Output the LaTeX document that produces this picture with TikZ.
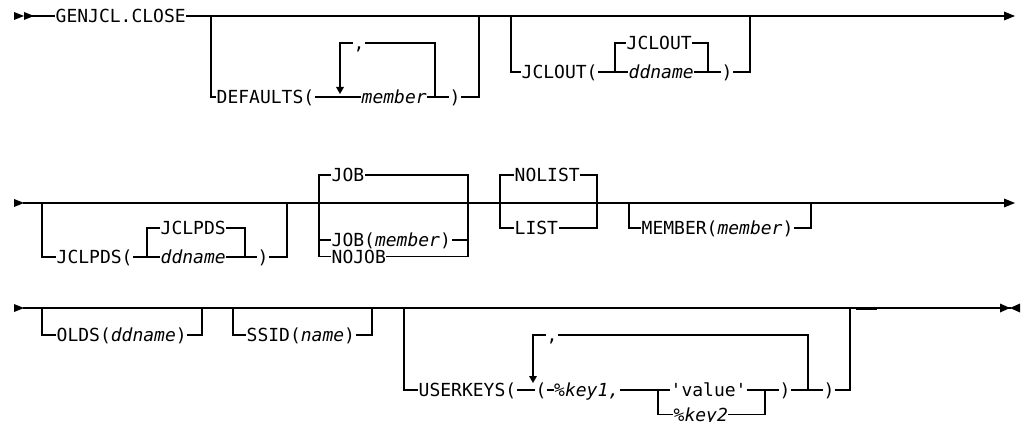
\documentclass[tikz,border=0pt]{standalone}
\usepackage{fontspec}
\setmonofont{DejaVu Sans Mono}
\newcommand\rrfont{\ttfamily\fontsize{18}{21}\selectfont}
\tikzset{
  track/.style={line width=1.2pt, line cap=rect, line join=miter},
  lbl/.style={anchor=west, inner xsep=1pt, inner ysep=0pt, text height=13.1pt, text depth=0pt, font=\rrfont},
  tipfill/.style={fill=black}
}
\begin{document}
\begin{tikzpicture}[x=1pt,y=-1pt]
\useasboundingbox (0,0) rectangle (1023,422);
\fill[white] (0,0) rectangle (1023,422);

% ---------------- Row 1 ----------------
\fill[tipfill] (14,12) -- (24,16) -- (14,20) -- cycle;
\fill[tipfill] (24,12) -- (34,16) -- (24,20) -- cycle;
\node[lbl] (gen) at (54.5,16) {GENJCL.CLOSE};
\coordinate (s1) at (33,16);
\coordinate (e1) at (1004,16);
\draw[track] (s1) -- (gen.west);
\draw[track] (gen.east) -- (e1);
\fill[tipfill] (1004,11.5) -- (1015,16) -- (1004,20.5) -- cycle;

% DEFAULTS
\node[lbl] (def) at (215.5,97) {DEFAULTS(};
\node[lbl] (mem) at (360.5,97) {\itshape member};
\node[lbl] (rp1) at (448.5,97) {)};
\node[lbl] (com1) at (352.5,43) {,};
\draw[track] (211,16) -- (211,97) -- (def.west);
\draw[track] (def.east) -- (mem.west);
\draw[track] (mem.east) -- (rp1.west);
\draw[track] (rp1.east) -- (479,97) -- (479,16);
\draw[track] (435,97) -- (435,43) -- (com1.east);
\draw[track] (com1.west) -- (340,43) -- (340,87);
\fill[tipfill] (336,87) -- (344,87) -- (340,94) -- cycle;

% JCLOUT
\node[lbl] (jo) at (520.5,72) {JCLOUT(};
\node[lbl] (ddn1) at (627.5,72) {\itshape ddname};
\node[lbl] (jod) at (625.5,43) {JCLOUT};
\node[lbl] (rp2) at (720.5,72) {)};
\draw[track] (511,16) -- (511,72) -- (jo.west);
\draw[track] (jo.east) -- (ddn1.west);
\draw[track] (615,72) -- (615,43) -- (jod.west);
\draw[track] (jod.east) -- (708,43) -- (708,72);
\draw[track] (ddn1.east) -- (rp2.west);
\draw[track] (rp2.east) -- (750,72) -- (750,16);

% ---------------- Row 2 ----------------
\fill[tipfill] (14,199) -- (24,203) -- (14,207) -- cycle;
\coordinate (s2) at (24,203);
\coordinate (e2) at (1004,203);
\draw[track] (s2) -- (e2);
\fill[tipfill] (1004,198.5) -- (1015,203) -- (1004,207.5) -- cycle;

% JCLPDS
\node[lbl] (jp) at (55.5,257) {JCLPDS(};
\node[lbl] (ddn2) at (159.5,257) {\itshape ddname};
\node[lbl] (jpd) at (159.5,228) {JCLPDS};
\node[lbl] (rp3) at (256.5,257) {)};
\draw[track] (42,203) -- (42,257) -- (jp.west);
\draw[track] (jp.east) -- (ddn2.west);
\draw[track] (147,257) -- (147,228) -- (jpd.west);
\draw[track] (jpd.east) -- (245,228) -- (245,257);
\draw[track] (ddn2.east) -- (rp3.west);
\draw[track] (rp3.east) -- (287,257) -- (287,203);

% JOB
\node[lbl] (job) at (330.5,175) {JOB};
\node[lbl] (jobm) at (330.5,240) {JOB(\textit{member})};
\node[lbl] (nojob) at (330.5,256.5) {NOJOB};
\draw[track] (319,256.5) -- (319,175) -- (job.west);
\draw[track] (job.east) -- (468,175) -- (468,256.5);
\draw[track] (319,240) -- (jobm.west);
\draw[track] (jobm.east) -- (468,240);
\draw[track] (319,256.5) -- (nojob.west);
\draw[track] (nojob.east) -- (468,256.5);

% NOLIST
\node[lbl] (nolist) at (513.5,175) {NOLIST};
\node[lbl] (list) at (513.5,228) {LIST};
\draw[track] (500,228) -- (500,175) -- (nolist.west);
\draw[track] (nolist.east) -- (597,175) -- (597,228);
\draw[track] (500,228) -- (list.west);
\draw[track] (list.east) -- (597,228);

% MEMBER
\node[lbl] (memb) at (640.5,228) {MEMBER(\textit{member})};
\draw[track] (629,203) -- (629,228) -- (memb.west);
\draw[track] (memb.east) -- (811,228) -- (811,203);

% ---------------- Row 3 ----------------
\fill[tipfill] (14,304) -- (24,308) -- (14,312) -- cycle;
\coordinate (s3) at (24,308);
\coordinate (e3) at (1010,308);
\draw[track] (s3) -- (e3);
\draw[line width=3pt] (856,308) -- (877,308);
\fill[tipfill] (1000,303.5) -- (1010,308) -- (1000,312.5) -- cycle;
\fill[tipfill] (1020,303.5) -- (1010,308) -- (1020,312.5) -- cycle;

% OLDS
\node[lbl] (olds) at (55.5,335) {OLDS(\textit{ddname})};
\draw[track] (42,308) -- (42,335) -- (olds.west);
\draw[track] (olds.east) -- (202,335) -- (202,308);

% SSID
\node[lbl] (ssid) at (245.5,335) {SSID(\textit{name})};
\draw[track] (233,308) -- (233,335) -- (ssid.west);
\draw[track] (ssid.east) -- (372,335) -- (372,308);

% USERKEYS
\node[lbl] (uk) at (417.5,390) {USERKEYS(};
\node[lbl] (lp) at (534.5,390) {(};
\node[lbl] (k1) at (553,390) {\itshape\%key1,};
\node[lbl] (val) at (669.5,390) {'value'};
\node[lbl] (k2) at (672.5,414.5) {\itshape\%key2};
\node[lbl] (rp4) at (778.5,390) {)};
\node[lbl] (rp5) at (822.5,390) {)};
\node[lbl] (com2) at (545.5,335) {,};
\draw[track] (404,308) -- (404,390) -- (uk.west);
\draw[track] (uk.east) -- (lp.west);
\draw[track] (lp.east) -- (k1.west);
\draw[track] (k1.east) -- (val.west);
\draw[track] (658,390) -- (658,414.5) -- (k2.west);
\draw[track] (k2.east) -- (765,414.5) -- (765,390);
\draw[track] (val.east) -- (rp4.west);
\draw[track] (rp4.east) -- (rp5.west);
\draw[track] (808,390) -- (808,335) -- (com2.east);
\draw[track] (com2.west) -- (533,335) -- (533,376);
\fill[tipfill] (529,376) -- (537,376) -- (533,383) -- cycle;
\draw[track] (rp5.east) -- (850,390) -- (850,308);
\end{tikzpicture}
\end{document}
